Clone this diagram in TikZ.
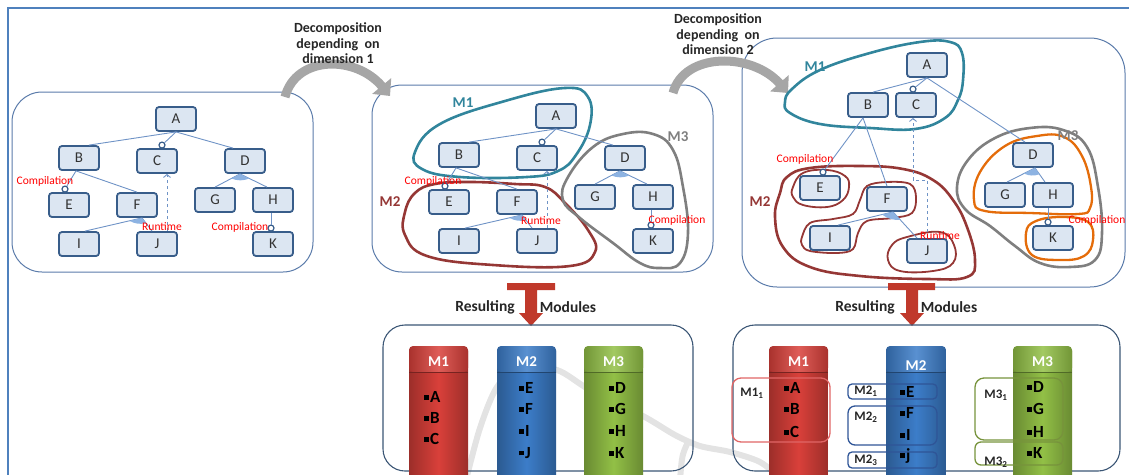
\documentclass[tikz,border=0pt]{standalone}
\usepackage{fontspec}
\setmainfont{Carlito}
\usetikzlibrary{arrows.meta,calc}
\definecolor{nodefill}{HTML}{DCE6F2}
\definecolor{nodeline}{HTML}{385D8A}
\definecolor{edgeblue}{HTML}{6F93C6}
\definecolor{framecol}{HTML}{4F81BD}
\definecolor{panelcol}{HTML}{5A7BAA}
\definecolor{bpanelcol}{HTML}{3B5675}
\definecolor{tealc}{HTML}{31859C}
\definecolor{dredc}{HTML}{953735}
\definecolor{grayc}{HTML}{7F7F7F}
\definecolor{orangec}{HTML}{E46C0A}
\definecolor{arrowgray}{HTML}{A6A6A6}
\definecolor{tred}{HTML}{C0392B}
\definecolor{modred}{HTML}{D9403A}
\definecolor{modblue}{HTML}{3C7DC9}
\definecolor{modgreen}{HTML}{92C046}
\definecolor{wedgec}{HTML}{8DB3E2}
\definecolor{subred}{HTML}{E06666}
\definecolor{subblue}{HTML}{2F5597}
\definecolor{subgreen}{HTML}{77933C}
\newcommand\sqb{\rule[3pt]{4.5pt}{4.5pt}\hspace{1.5pt}}
% tree of panel 1 (reused, shifted, for panel 2)
\newcommand\ftree{%
 \node[fm] (A) at (176,119) {A};
 \node[fm] (B) at (79,158) {B};
 \node[fm] (C) at (157,161) {C};
 \node[fm] (D) at (245,161) {D};
 \node[fm] (E) at (69,205) {E};
 \node[fm] (F) at (137,205) {F};
 \node[fm] (G) at (215,200) {G};
 \node[fm] (H) at (273,200) {H};
 \node[fm] (I) at (79,244) {I};
 \node[fm] (J) at (157,244) {J};
 \node[fm] (K) at (273,244) {K};
 \draw[edge] (A.south) -- ([xshift=10pt]B.north);
 \node[optc] (oc) at ([xshift=5pt,yshift=3pt]C.north) {};
 \draw[edge] (A.south) -- (oc);
 \draw[edge] (A.south) -- ([xshift=-12pt]D.north);
 \coordinate (bs) at ([xshift=-3pt]B.south);
 \node[optc] (oe) at ([xshift=-4pt,yshift=3pt]E.north) {};
 \draw[edge] (bs) -- (oe);
 \draw[edge] (bs) -- (F.north);
 \coordinate (fa) at ([xshift=5pt]F.south);
 \coordinate (fi) at ([xshift=6pt]I.north);
 \coordinate (fj) at ([xshift=-5pt]J.north);
 \draw[edge] (fi) -- (fa) -- (fj);
 \fill[wedgec] (fa) -- ($(fa)!0.22!(fi)$) to[bend right=20] ($(fa)!0.4!(fj)$) -- cycle;
 \coordinate (da) at ([xshift=-5pt]D.south);
 \coordinate (dg) at (G.north);
 \coordinate (dh) at ([xshift=-6pt]H.north);
 \draw[edge] (dg) -- (da) -- (dh);
 \fill[wedgec] (da) -- ($(da)!0.35!(dg)$) to[bend right=20] ($(da)!0.35!(dh)$) -- cycle;
 \node[optc] (ok) at ([xshift=-2pt,yshift=3pt]K.north) {};
 \draw[edge] ([xshift=-2pt]H.south) -- (ok);
 \draw[rt] ([xshift=10pt]J.north) -- ([xshift=10pt]C.south);
}
\newcommand\mcol[6]{%
 \shade[left color=#3!72!black, right color=#3!72!black, middle color=#3, rounded corners=4pt] (#1,347) rectangle (#2,485);
 \shade[left color=#3!78!black, right color=#3!78!black, middle color=#3!85!white, rounded corners=4pt] (#1,346) rectangle (#2,372);
 \draw[#3!55!black, line width=1pt] (#1,372) -- (#2,372);
 \node[hdr] (#4) at ({(#1+#2)/2},#6) {#5};
}
\begin{document}
\begin{tikzpicture}[x=1pt,y=-1pt,
 fm/.style={draw=nodeline,line width=1.8pt,fill=nodefill,rounded corners=3pt,minimum width=40pt,minimum height=24pt,inner sep=0pt,font=\fontsize{15}{15}\selectfont,text=black!80},
 edge/.style={draw=edgeblue,line width=0.9pt},
 optc/.style={circle,draw=nodeline,line width=1.2pt,fill=white,minimum size=6pt,inner sep=0pt},
 lbl/.style={text=red,font=\fontsize{11.5}{11.5}\selectfont,inner sep=0pt},
 hull/.style={line width=2.6pt},
 subhull/.style={line width=1.8pt},
 rt/.style={draw=edgeblue,line width=0.9pt,dashed,-{Straight Barb[length=3pt,width=7pt]}},
 panel/.style={draw=panelcol,line width=1pt,rounded corners=30pt},
 bpanel/.style={draw=bpanelcol,line width=1.1pt,rounded corners=22pt},
 garrow/.style={draw=arrowgray,line width=9pt,-{Triangle[length=13pt,width=24pt]}},
 dlabel/.style={align=center,font=\bfseries\fontsize{14}{15.5}\selectfont,text=black!85,inner sep=0pt},
 rlabel/.style={font=\bfseries\fontsize{15.5}{15.5}\selectfont,text=black!85,inner sep=0pt},
 hl/.style={font=\bfseries\fontsize{15}{15}\selectfont,inner sep=0pt},
 hdr/.style={font=\bfseries\fontsize{15}{15}\selectfont,text=white,inner sep=0pt},
 item/.style={font=\bfseries\fontsize{17}{17}\selectfont,text=black,inner sep=0pt,anchor=west},
 sublbl/.style={font=\bfseries\fontsize{13}{13}\selectfont,text=black!85,inner sep=0pt},
 wm/.style={draw=black!11,line width=6pt}
]
\useasboundingbox (0,0) rectangle (1129,474);
\clip (0,0) rectangle (1129,474);

% outer frame
\draw[framecol,line width=1.4pt] (8,480) -- (8,8) -- (1135,8);

% panels
\draw[panel] (12,92) rectangle (313,272);
\draw[panel] (372,85) rectangle (713,272);
\draw[panel,rounded corners=35pt] (742,38) rectangle (1125,287);

% curved gray arrows and their labels
\coordinate (g1s) at (285,97);
\coordinate (g1e) at (390,96);
\draw[garrow] (g1s) .. controls (296,55) and (356,55) .. (g1e);
\coordinate (g2s) at (673,93);
\coordinate (g2e) at (788,93);
\draw[garrow] (g2s) .. controls (684,52) and (752,52) .. (g2e);
\node[dlabel] (d1) at (338,43.5) {Decomposition\\depending~~on\\dimension 1};
\node[dlabel] (d2) at (718,34.5) {Decomposition\\depending~~on\\dimension 2};

% ---------------- panel 1
\begin{scope}[name prefix=p1-]
 \ftree
\end{scope}
\node[lbl] (p1c1) at (45,181) {Compilation};
\node[lbl] (p1rt) at (162,227) {Runtime};
\node[lbl] (p1c2) at (240,227) {Compilation};

% ---------------- panel 2
\draw[hull,tealc] plot[smooth cycle,tension=0.7] coordinates {(415,152) (440,124) (505,101) (565,88) (588,97) (590,125) (576,155) (558,171) (527,177) (460,177) (422,169)};
\draw[hull,dredc] plot[smooth cycle,tension=0.7] coordinates {(405,212) (415,193) (435,184) (470,182) (515,184) (545,187) (565,203) (588,230) (595,252) (570,266) (493,265) (427,256) (405,235)};
\draw[hull,grayc] plot[smooth cycle,tension=0.7] coordinates {(593,147) (623,134) (653,134) (673,150) (683,187) (688,233) (680,263) (660,268) (640,263) (613,243) (580,218) (563,200) (568,177)};
\begin{scope}[shift={(380,-3)},name prefix=p2-]
 \ftree
\end{scope}
\node[hl,text=tealc] (p2m1) at (463,103) {M1};
\node[hl,text=dredc] (p2m2) at (390,202) {M2};
\node[hl,text=grayc] (p2m3) at (678,137) {M3};
\node[lbl] (p2c1) at (433,181) {Compilation};
\node[lbl] (p2rt) at (541,221) {Runtime};
\node[lbl] (p2c2) at (677,220) {Compilation};

% ---------------- panel 3
\draw[hull,tealc] plot[smooth cycle,tension=0.7] coordinates {(785,102) (792,89) (820,70) (870,53) (920,42) (950,42) (962,53) (963,80) (958,100) (945,118) (915,129) (870,128) (820,124) (790,113)};
\draw[hull,dredc] plot[smooth cycle,tension=0.7] coordinates {(780,193) (787,177) (810,168) (860,166) (903,169) (933,180) (953,200) (967,227) (975,260) (967,277) (927,279) (860,276) (810,267) (783,247) (775,217)};
\draw[subhull,dredc] plot[smooth cycle,tension=0.7] coordinates {(793,187) (803,173) (827,170) (845,176) (849,187) (843,200) (827,207) (803,205) (793,197)};
\draw[subhull,dredc] plot[smooth cycle,tension=0.6] coordinates {(802,237) (810,223) (833,219) (853,214) (860,200) (867,186) (887,182) (910,184) (916,197) (912,213) (893,218) (867,221) (858,233) (853,249) (837,253) (810,251) (802,245)};
\draw[subhull,dredc] plot[smooth cycle,tension=0.7] coordinates {(888,260) (892,245) (907,237) (940,232) (954,245) (953,263) (933,271) (900,271)};
\draw[hull,grayc] plot[smooth cycle,tension=0.7] coordinates {(957,187) (968,160) (995,138) (1030,128) (1063,130) (1087,147) (1098,187) (1102,233) (1095,260) (1070,267) (1040,263) (1015,246) (990,226) (965,209)};
\draw[hull,orangec,line width=2.3pt] plot[smooth cycle,tension=0.7] coordinates {(974,200) (980,172) (1005,146) (1037,136) (1064,137) (1082,156) (1091,187) (1090,208) (1078,214) (1030,213) (985,211)};
\draw[hull,orangec,line width=2.3pt] plot[smooth cycle,tension=0.7] coordinates {(1026,233) (1036,221) (1063,217) (1088,222) (1093,240) (1084,256) (1060,260) (1032,255)};

\node[fm] (rA) at (927,65) {A};
\node[fm] (rB) at (868,105) {B};
\node[fm] (rC) at (916,105) {C};
\node[fm] (rD) at (1033,155) {D};
\node[fm] (rE) at (820,188) {E};
\node[fm] (rF) at (887,199) {F};
\node[fm] (rG) at (1005,195) {G};
\node[fm] (rH) at (1053,195) {H};
\node[fm] (rI) at (830,238) {I};
\node[fm] (rJ) at (927,251) {J};
\node[fm] (rK) at (1053,238) {K};
\draw[edge] (rA.south) -- ([xshift=5pt]rB.north);
\node[optc] (rcc) at ([xshift=-3pt,yshift=3pt]rC.north) {};
\draw[edge] (rA.south) -- (rcc);
\draw[edge] (rA.south) -- ([xshift=-8pt]rD.north);
\coordinate (rbs) at ([xshift=-5pt]rB.south);
\node[optc] (rec) at ([xshift=3pt,yshift=3pt]rE.north) {};
\draw[edge] (rbs) -- (rec);
\draw[edge] (rbs) -- (rF.north);
\coordinate (rfa) at ([xshift=6pt]rF.south);
\coordinate (rfi) at ([xshift=8pt]rI.north);
\coordinate (rfj) at ([xshift=-10pt]rJ.north);
\draw[edge] (rfi) -- (rfa) -- (rfj);
\fill[wedgec] (rfa) -- ($(rfa)!0.2!(rfi)$) to[bend right=20] ($(rfa)!0.3!(rfj)$) -- cycle;
\coordinate (rda) at ([xshift=2pt]rD.south);
\coordinate (rdg) at ([xshift=2pt]rG.north);
\coordinate (rdh) at ([xshift=-8pt]rH.north);
\draw[edge] (rdg) -- (rda) -- (rdh);
\fill[wedgec] (rda) -- ($(rda)!0.4!(rdg)$) to[bend right=20] ($(rda)!0.45!(rdh)$) -- cycle;
\node[optc] (rkc) at ([xshift=-5pt,yshift=3pt]rK.north) {};
\draw[edge] ([xshift=-5pt]rH.south) -- (rkc);
\coordinate (rk1) at (927,180);
\coordinate (rk2) at (913,180);
\draw[rt] (rJ.north) -- (rk1) -- (rk2) -- (rC.south -| rk2);
\node[hl,text=tealc] (p3m1) at (815,67) {M1};
\node[hl,text=dredc] (p3m2) at (760,202) {M2};
\node[hl,text=grayc] (p3m3) at (1068,136) {M3};
\node[lbl] (p3c1) at (805,159) {Compilation};
\node[lbl] (p3rt) at (940,236) {Runtime};
\node[lbl] (p3c2) at (1097,220) {Compilation};

% ---------------- red T arrows and captions
\fill[tred] (507,283) -- (555,283) -- (555,290) -- (537,290) -- (537,313) -- (543,313) -- (531,326) -- (519,313) -- (525,313) -- (525,290) -- (507,290) -- cycle;
\fill[tred] (888,283) -- (935,283) -- (935,290) -- (918,290) -- (918,313) -- (924,313) -- (912,326) -- (900,313) -- (906,313) -- (906,290) -- (888,290) -- cycle;
\node[rlabel] (r1a) at (485,307) {Resulting};
\node[rlabel] (r1b) at (568,307) {Modules};
\node[rlabel] (r2a) at (865,307) {Resulting};
\node[rlabel] (r2b) at (949,307) {Modules};

% faint background arc
\draw[wm] plot[smooth] coordinates {(466,480) (480,428) (497,387) (520,368) (557,370) (590,390) (643,416) (675,435) (700,446) (730,452) (760,462) (780,478)};
\draw[wm] (688,442) .. controls (682,455) .. (680,480);

% ---------------- bottom panels
\draw[bpanel] (383,325) rectangle (693,471);
\draw[bpanel] (733,325) rectangle (1120,471);

% middle bottom modules
\mcol{409}{468}{modred}{b1h}{M1}{362}
\mcol{497}{556}{modblue}{b2h}{M2}{362}
\mcol{584}{643}{modgreen}{b3h}{M3}{362}
\node[item] (b1a) at (424,397) {\sqb A};
\node[item] (b1b) at (424,418) {\sqb B};
\node[item] (b1c) at (424,439) {\sqb C};
\node[item] (b2e) at (519,388) {\sqb E};
\node[item] (b2f) at (519,409) {\sqb F};
\node[item] (b2i) at (519,431) {\sqb I};
\node[item] (b2j) at (519,453) {\sqb J};
\node[item] (b3d) at (609,388) {\sqb D};
\node[item] (b3g) at (609,409) {\sqb G};
\node[item] (b3h) at (609,431) {\sqb H};
\node[item] (b3k) at (609,453) {\sqb K};

% right bottom modules
\mcol{769}{828}{modred}{c1h}{M1}{362}
\mcol{886}{946}{modblue}{c2h}{M2}{366}
\mcol{1013}{1072}{modgreen}{c3h}{M3}{362}
\node[item] (c1a) at (784,388) {\sqb A};
\node[item] (c1b) at (784,409) {\sqb B};
\node[item] (c1c) at (784,432) {\sqb C};
\node[item] (c2e) at (900,392) {\sqb E};
\node[item] (c2f) at (900,413) {\sqb F};
\node[item] (c2i) at (900,435) {\sqb I};
\node[item] (c2j) at (900,456) {\sqb j};
\node[item] (c3d) at (1027,387) {\sqb D};
\node[item] (c3g) at (1027,409) {\sqb G};
\node[item] (c3h) at (1027,432) {\sqb H};
\node[item] (c3k) at (1027,453) {\sqb K};

% sub-module boxes
\draw[subred,line width=1.3pt,rounded corners=9pt] (732,378) rectangle (830,442);
\draw[subblue,line width=1.3pt,rounded corners=4pt] (848,384) rectangle (937,399);
\draw[subblue,line width=1.3pt,rounded corners=7pt] (848,406) rectangle (937,445);
\draw[subblue,line width=1.3pt,rounded corners=4pt] (848,452) rectangle (937,468);
\draw[subgreen,line width=1.3pt,rounded corners=9pt] (975,378) rectangle (1063,440);
\draw[subgreen,line width=1.3pt,rounded corners=6pt] (975,442) rectangle (1063,465);
\node[sublbl] (s11) at (752,393) {M1\textsubscript{1}};
\node[sublbl] (s21) at (866,391) {M2\textsubscript{1}};
\node[sublbl] (s22) at (866,417) {M2\textsubscript{2}};
\node[sublbl] (s23) at (866,460) {M2\textsubscript{3}};
\node[sublbl] (s31) at (996,395) {M3\textsubscript{1}};
\node[sublbl] (s32) at (996,462) {M3\textsubscript{2}};
\end{tikzpicture}
\end{document}
